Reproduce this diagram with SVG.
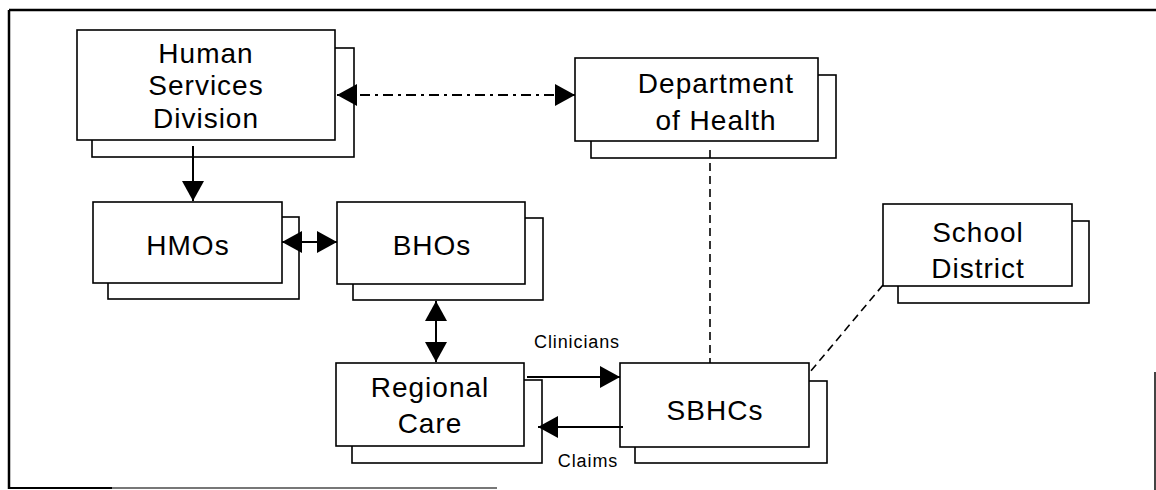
<svg xmlns="http://www.w3.org/2000/svg" width="1156" height="490" viewBox="0 0 1156 490">
<defs>
<marker id="ah" markerUnits="userSpaceOnUse" markerWidth="20" markerHeight="22" refX="20" refY="11" orient="auto-start-reverse" viewBox="0 0 20 22">
<path d="M0,0 L20,11 L0,22 z" fill="#000"/>
</marker>
</defs>
<style>
.bk{fill:#fff;stroke:#000;stroke-width:1.6}
.fr{fill:#fff;stroke:#000;stroke-width:1.6}
.t{font-family:"Liberation Sans",Arial,sans-serif;font-size:28px;letter-spacing:1px;text-anchor:middle;fill:#000}
.s{font-family:"Liberation Sans",Arial,sans-serif;font-size:18px;letter-spacing:0.9px;text-anchor:middle;fill:#000}
.c{fill:none;stroke:#000;stroke-width:2}
.dd{fill:none;stroke:#000;stroke-width:1.8;stroke-dasharray:10 5 3 5}
.da{fill:none;stroke:#000;stroke-width:1.6;stroke-dasharray:8 5}
</style>
<rect width="1156" height="490" fill="#fff"/>
<g id="frame">
<line x1="9" y1="10" x2="1156" y2="10" stroke="#000" stroke-width="2.5"/>
<line x1="9" y1="10" x2="9" y2="489" stroke="#000" stroke-width="2.5"/>
<line x1="9" y1="488" x2="112" y2="488" stroke="#000" stroke-width="2"/>
<line x1="112" y1="488" x2="497" y2="488" stroke="#777" stroke-width="2"/>
<line x1="1155" y1="372" x2="1155" y2="490" stroke="#444" stroke-width="2"/>
</g>
<g id="hsd">
<rect class="bk" x="92" y="48" width="262" height="109"/>
<rect class="fr" x="77" y="30" width="258" height="110"/>
<text class="t" x="206" y="63">Human</text>
<text class="t" x="206" y="95">Services</text>
<text class="t" x="206" y="128">Division</text>
</g>
<g id="doh">
<rect class="bk" x="591" y="75" width="245" height="83"/>
<rect class="fr" x="575" y="58" width="243" height="83"/>
<text class="t" x="716" y="93">Department</text>
<text class="t" x="716" y="130">of Health</text>
</g>
<g id="hmos">
<rect class="bk" x="108" y="217" width="191" height="82"/>
<rect class="fr" x="93" y="202" width="189" height="81"/>
<text class="t" x="188" y="255">HMOs</text>
</g>
<g id="bhos">
<rect class="bk" x="353" y="218" width="190" height="82"/>
<rect class="fr" x="337" y="202" width="188" height="82"/>
<text class="t" x="432" y="255">BHOs</text>
</g>
<g id="regional">
<rect class="bk" x="352" y="380" width="190" height="83"/>
<rect class="fr" x="336" y="363" width="188" height="83"/>
<text class="t" x="430" y="397">Regional</text>
<text class="t" x="430" y="433">Care</text>
</g>
<g id="sbhcs">
<rect class="bk" x="635" y="381" width="192" height="82"/>
<rect class="fr" x="620" y="363" width="189" height="84"/>
<text class="t" x="715" y="420">SBHCs</text>
</g>
<g id="school">
<rect class="bk" x="898" y="221" width="191" height="82"/>
<rect class="fr" x="883" y="204" width="189" height="82"/>
<text class="t" x="978" y="242">School</text>
<text class="t" x="978" y="278">District</text>
</g>
<g id="connectors">
<line class="dd" x1="337" y1="95" x2="575" y2="95" marker-start="url(#ah)" marker-end="url(#ah)"/>
<line class="c" x1="193" y1="146" x2="193" y2="201" marker-end="url(#ah)"/>
<line class="c" x1="282" y1="242" x2="337" y2="242" marker-start="url(#ah)" marker-end="url(#ah)"/>
<line class="c" x1="436" y1="301" x2="436" y2="362" marker-start="url(#ah)" marker-end="url(#ah)"/>
<line class="c" x1="527" y1="377" x2="620" y2="377" marker-end="url(#ah)"/>
<line class="c" x1="623" y1="427" x2="538" y2="427" marker-end="url(#ah)"/>
<line class="da" x1="710" y1="150" x2="710" y2="363"/>
<line class="da" x1="883" y1="285" x2="810" y2="372"/>
<text class="s" x="577" y="348">Clinicians</text>
<text class="s" x="588" y="467">Claims</text>
</g>
</svg>
